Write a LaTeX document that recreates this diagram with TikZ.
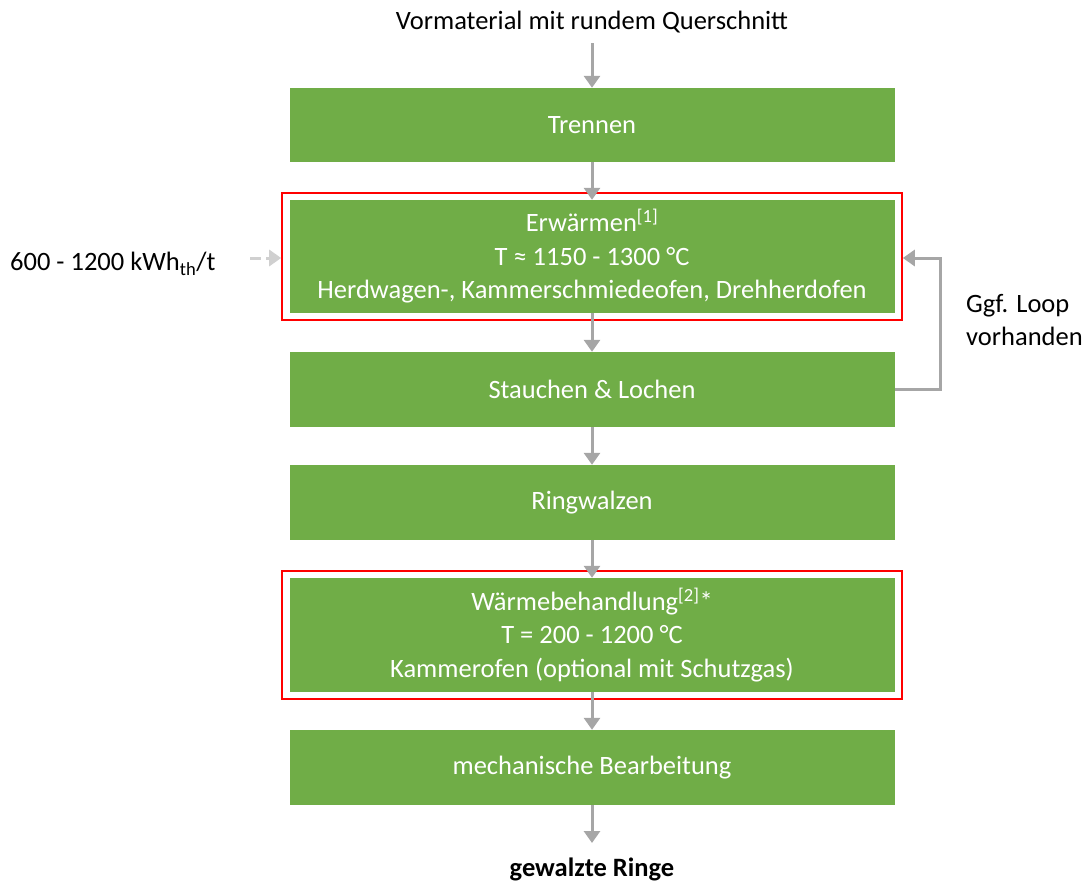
\documentclass[tikz,border=0pt]{standalone}
\usepackage{fontspec}
\setmainfont{Carlito}
\usetikzlibrary{arrows.meta,fit}
\definecolor{boxgreen}{HTML}{70AD47}
\definecolor{arrgray}{HTML}{A6A6A6}
\definecolor{dashgray}{HTML}{D0D0D0}
\tikzset{
  stepbox/.style={fill=boxgreen, text=white, minimum width=605pt, inner sep=0pt, align=center, font=\fontsize{26.5}{33.5}\selectfont},
  redframe/.style={draw=red, line width=2.2pt, inner sep=7pt},
  flow/.style={draw=arrgray, line width=3pt, -{Triangle[length=12pt,width=16pt]}},
  dflow/.style={draw=dashgray, line width=3pt, dash pattern=on 11pt off 5pt, -{Triangle[length=12pt,width=16pt]}},
  plain/.style={font=\fontsize{26.5}{32}\selectfont, inner sep=0pt}
}
\begin{document}
\begin{tikzpicture}[x=1pt,y=-1pt]
\useasboundingbox (0,0) rectangle (1084,884);
\node[plain] (top) at (592,22) {Vormaterial mit rundem Querschnitt};
\node[stepbox, minimum height=74pt] (tre) at (592,125) {Trennen};
\node[stepbox, minimum height=113pt] (erw) at (592,256.5) {Erwärmen\textsuperscript{[1]}\\T ≈ 1150 - 1300 °C\\Herdwagen-, Kammerschmiedeofen, Drehherdofen};
\node[stepbox, minimum height=75pt] (sta) at (592,389.5) {Stauchen \& Lochen};
\node[stepbox, minimum height=75pt] (rin) at (592,502.5) {Ringwalzen};
\node[stepbox, minimum height=114pt] (waer) at (592,635) {Wärmebehandlung\textsuperscript{[2]}*\\T = 200 - 1200 °C\\Kammerofen (optional mit Schutzgas)};
\node[stepbox, minimum height=75pt] (mech) at (592,767.5) {mechanische Bearbeitung};
\node[plain, font=\fontsize{26.5}{32}\selectfont\bfseries] (end) at (592,869) {gewalzte Ringe};
\node[redframe, fit=(erw)] (erwf) {};
\node[redframe, fit=(waer)] (waerf) {};
\node[plain, anchor=west] (kwh) at (10,264) {600 - 1200 kWh\textsubscript{th}/t};
\node[plain, anchor=north west, align=left, font=\fontsize{26.5}{33}\selectfont] (loop) at (966,294) {Ggf. Loop\\vorhanden};
\coordinate (dstart) at (250,258);
\coordinate (bend) at (940,258);
\coordinate (lbot) at (592,843);
\draw[flow] (top.south) ++(0,10) -- (tre.north);
\draw[flow] (tre) -- (erw);
\draw[flow] (erw) -- (sta);
\draw[flow] (sta) -- (rin);
\draw[flow] (rin) -- (waer);
\draw[flow] (waer) -- (mech);
\draw[flow] (mech.south) -- (lbot);
\draw[flow] (sta.east) -| (bend) -- (erwf.east |- bend);
\draw[dflow] (dstart) -- (erwf.west |- dstart);
\end{tikzpicture}
\end{document}
